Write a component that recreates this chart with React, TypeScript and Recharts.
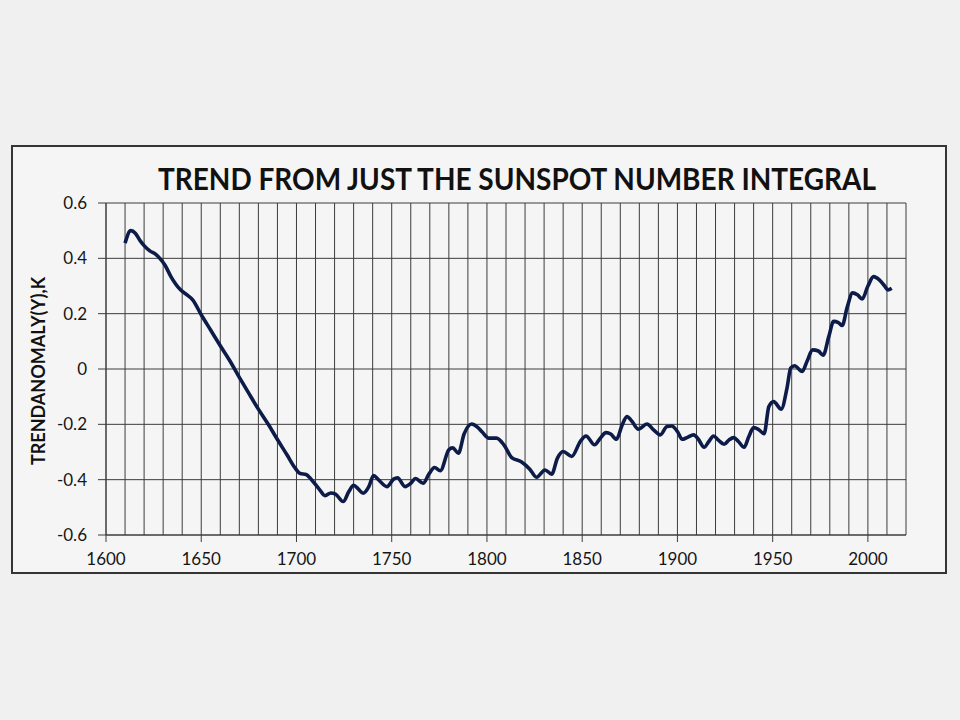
import React from "react"
import { LineChart, Line, XAxis, YAxis, CartesianGrid } from "recharts"

const years = [
  1610, 1613, 1615.5, 1618, 1620, 1623, 1626, 1628.5, 1631, 1634, 1639, 1642.5, 1645.5, 1650,
  1655, 1660, 1665, 1670, 1675, 1680, 1685, 1690, 1695, 1699, 1702, 1705, 1708, 1712, 1715,
  1718, 1720.5, 1724.5, 1727.5, 1730, 1732.5, 1735, 1738, 1740.5, 1743, 1747.5, 1751, 1753,
  1757, 1760, 1762.5, 1766.5, 1769.5, 1772.5, 1775.5, 1780, 1782, 1785, 1788, 1792, 1795,
  1797.5, 1801, 1805, 1809, 1813, 1818, 1822.5, 1826, 1830.5, 1834, 1837, 1840, 1844.5, 1849,
  1852, 1856.5, 1859.5, 1862.5, 1865, 1868, 1871, 1873.5, 1876, 1879.5, 1884, 1887.5, 1891,
  1894.5, 1897, 1900, 1902.5, 1905, 1908.5, 1911, 1914, 1916.5, 1919, 1921.5, 1924.5, 1927,
  1929.5, 1932, 1935, 1937.5, 1940, 1942.5, 1945.5, 1948, 1950.5, 1954.5, 1957.5, 1959.5,
  1961.5, 1965.5, 1968, 1971, 1974, 1976.5, 1979.5, 1982, 1984.5, 1986.5, 1989, 1992, 1994.5,
  1997, 2000, 2003, 2006, 2009, 2010.5, 2012.5,
]

const trend = [
  0.455, 0.5, 0.49, 0.463, 0.446, 0.427, 0.415, 0.398, 0.375, 0.335, 0.287, 0.268, 0.25, 0.196,
  0.14, 0.084, 0.03, -0.03, -0.088, -0.145, -0.198, -0.255, -0.31, -0.355, -0.378, -0.381,
  -0.401, -0.435, -0.458, -0.448, -0.452, -0.479, -0.443, -0.42, -0.434, -0.449, -0.425,
  -0.385, -0.4, -0.425, -0.398, -0.393, -0.425, -0.413, -0.396, -0.413, -0.38, -0.356,
  -0.368, -0.292, -0.285, -0.304, -0.235, -0.199, -0.21, -0.228, -0.25, -0.25, -0.275, -0.32,
  -0.335, -0.362, -0.391, -0.365, -0.38, -0.322, -0.298, -0.316, -0.262, -0.242, -0.274,
  -0.25, -0.23, -0.235, -0.254, -0.202, -0.172, -0.188, -0.218, -0.199, -0.22, -0.238,
  -0.208, -0.206, -0.226, -0.254, -0.248, -0.238, -0.254, -0.283, -0.262, -0.242, -0.257,
  -0.272, -0.257, -0.248, -0.262, -0.283, -0.244, -0.212, -0.218, -0.234, -0.136, -0.118,
  -0.145, -0.07, 0.004, 0.012, -0.009, 0.027, 0.069, 0.065, 0.05, 0.118, 0.172, 0.168, 0.157,
  0.22, 0.275, 0.268, 0.253, 0.3, 0.334, 0.322, 0.298, 0.286, 0.292,
]

const xTicks = [1600, 1650, 1700, 1750, 1800, 1850, 1900, 1950, 2000]
const gridYears = [
  1600, 1610, 1620, 1630, 1640, 1650, 1660, 1670, 1680, 1690, 1700, 1710, 1720, 1730, 1740,
  1750, 1760, 1770, 1780, 1790, 1800, 1810, 1820, 1830, 1840, 1850, 1860, 1870, 1880, 1890,
  1900, 1910, 1920, 1930, 1940, 1950, 1960, 1970, 1980, 1990, 2000, 2010, 2020,
]
const yTicks = [-0.6, -0.4, -0.2, 0, 0.2, 0.4, 0.6]

const title = "TREND FROM JUST THE SUNSPOT NUMBER INTEGRAL"
const yLabel = "TRENDANOMALY(Y),K"

const font = "Lato, 'Open Sans', sans-serif"
const ink = "#161616"
const gridColor = "#3c3c3c"

// grid every 10 years, mapped through the x axis scale
const gridX = ({ xAxis }: any) => {
  const s = xAxis && xAxis.scale
  if (!s) return []
  return gridYears.map((y) => (typeof s === "function" ? s(y) : s.map(y)))
}

export default function App() {
  const data = years.map((year, i) => ({ year, value: trend[i] }))

  return (
    <div
      style={{
        position: "absolute",
        left: 0,
        top: 0,
        width: 960,
        height: 720,
        background: "#f0f0f0",
        fontFamily: font,
      }}
    >
      <div
        style={{
          position: "absolute",
          left: 11,
          top: 145,
          width: 932,
          height: 425,
          border: "2px solid #353535",
          background: "#f5f5f5",
        }}
      />
      <div style={{ position: "absolute", left: 0, top: 0 }}>
        <LineChart width={960} height={720} data={data} margin={{ top: 203, right: 54, bottom: 155, left: 46 }}>
          <CartesianGrid stroke={gridColor} strokeWidth={1} verticalCoordinatesGenerator={gridX} />
          <XAxis
            dataKey="year"
            type="number"
            domain={[1600, 2020]}
            ticks={xTicks}
            interval={0}
            height={30}
            tickSize={7}
            tickMargin={11}
            axisLine={{ stroke: gridColor }}
            tickLine={{ stroke: gridColor }}
            tick={{ fontSize: 17, fill: ink, fontFamily: font }}
            allowDecimals={false}
          />
          <YAxis
            type="number"
            domain={[-0.6, 0.6]}
            ticks={yTicks}
            width={60}
            tickSize={8}
            tickMargin={11}
            axisLine={{ stroke: gridColor }}
            tickLine={{ stroke: gridColor }}
            tick={{ fontSize: 17, fill: ink, fontFamily: font }}
            tickFormatter={(v: number) => (v === 0 ? "0" : v.toFixed(1))}
          />
          <Line
            type="monotone"
            dataKey="value"
            stroke="#0d1b48"
            strokeWidth={3.6}
            dot={false}
            activeDot={false}
            isAnimationActive={false}
          />
        </LineChart>
      </div>
      <svg width={960} height={720} style={{ position: "absolute", left: 0, top: 0, pointerEvents: "none" }}>
        <text
          x={517}
          y={190}
          textAnchor="middle"
          fontSize={30}
          fontWeight="bold"
          fontFamily={font}
          fill="#111"
          textLength={718}
          lengthAdjust="spacingAndGlyphs"
        >
          {title}
        </text>
        <text
          transform="translate(45, 371) rotate(-90)"
          textAnchor="middle"
          fontSize={18}
          fontWeight="bold"
          fontFamily={font}
          fill="#111"
          textLength={188}
          lengthAdjust="spacingAndGlyphs"
        >
          {yLabel}
        </text>
      </svg>
    </div>
  )
}
